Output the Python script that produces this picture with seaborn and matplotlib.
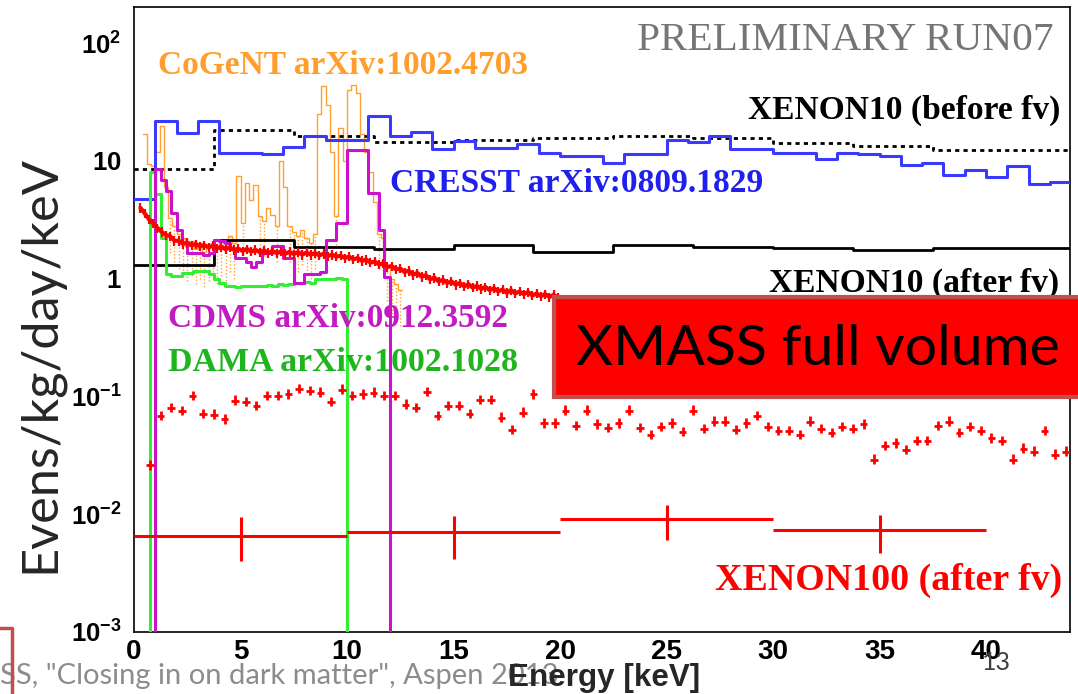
import numpy as np
import matplotlib
matplotlib.use("Agg")
import matplotlib.pyplot as plt
import seaborn as sns
from matplotlib.patches import Rectangle
from matplotlib.lines import Line2D
from matplotlib.ticker import LogLocator, NullFormatter, MultipleLocator

W, H = 1078, 694

# ---------------- data ----------------
# CRESST arXiv:0809.1829, 1 keV bins from 0 to 44 keV
cresst_edges = list(range(0, 45))
cresst_vals = [4.8, 21.8, 17.3, 21.8, 11.7, 11.7, 11.5, 13.2, 16.4, 15.0, 15.0, 24.1,
               16.4, 17.7, 12.6, 14.9, 12.8, 12.8, 13.9, 11.7, 11.1, 11.1, 9.6, 11.5,
               11.5, 15.1, 14.6, 16.4, 12.6, 12.6, 11.6, 11.6, 10.4, 11.6, 11.5, 11.1,
               9.2, 9.6, 7.6, 8.3, 7.3, 9.1, 6.4, 6.6]

# XENON10, 3.75 keV bins
xenon10_edges = [0, 3.75, 7.5, 11.25, 15, 18.75, 22.5, 26.25, 30, 33.75, 37.5, 41.25, 45]
xenon10_before = [8.5, 18.2, 16.3, 14.4, 15.2, 15.8, 16.3, 15.8, 14.2, 13.4, 12.5, 12.5]
xenon10_after = [1.32, 2.15, 1.87, 1.80, 1.93, 1.70, 1.93, 1.85, 1.81, 1.75, 1.81, 1.81]

# CoGeNT arXiv:1002.4703, 0.2 keV bins starting at 0.4 keV
cogent_start, cogent_width = 0.4, 0.2
cogent_vals = [17, 9.5, 9.0, 12, 20, 6.0, 3.3, 2.8, 2.4, 2.2, 1.9, 2.1, 1.8, 2.0, 1.7,
               1.9, 2.0, 1.8, 2.1, 1.9, 2.3, 2.0, 7.4, 3.0, 6.5, 4.7, 6.3, 3.4, 3.1, 4.0,
               3.5, 2.8, 9.9, 6.0, 2.8, 2.5, 2.3, 2.6, 2.2, 2.0, 2.4, 25, 43, 30, 12,
               3.4, 19, 10, 40, 44, 38, 17, 12, 8.0, 4.5, 2.4, 2.2, 1.3, 1.0, 0.9, 0.8]

# CDMS arXiv:0912.3592, 0.25 keV bins from 1 to 12 keV (zero outside)
cdms_start, cdms_width = 1.0, 0.25
cdms_vals = [8.5, 6.9, 5.6, 3.6, 2.6, 2.0, 1.65, 1.65, 1.65, 1.6, 1.65, 2.15, 2.1, 2.0,
             1.8, 1.5, 1.5, 1.4, 1.25, 1.4, 1.65, 1.65, 1.9, 1.9, 1.5, 1.5, 0.92, 0.92,
             1.1, 1.1, 1.1, 1.15, 2.15, 2.15, 3.0, 3.0, 12.4, 12.4, 12.4, 12.4, 5.3,
             5.3, 2.6, 1.03]

# DAMA arXiv:1002.1028, 0.25 keV bins from 0.75 to 10 keV (zero outside)
dama_start, dama_width = 0.75, 0.25
dama_vals = [8.1, 5.2, 2.2, 1.1, 1.05, 1.05, 1.12, 1.12, 1.17, 1.17, 1.17, 1.1, 1.0,
             0.92, 0.86, 0.86, 0.85, 0.86, 0.87, 0.86, 0.87, 0.86, 0.88, 0.87, 0.9,
             0.88, 0.9, 0.92, 0.92, 0.93, 0.92, 1.0, 1.0, 1.0, 1.0, 1.02, 1.0]

# XMASS full volume, fine spectrum 0.3 - 19.9 keV (0.2 keV steps)
xmass_fine_start, xmass_fine_step = 0.3, 0.2
xmass_fine = [4.0, 3.6, 3.2, 2.95, 2.7, 2.5, 2.35, 2.3, 2.1, 2.1, 1.98, 2.02, 1.92, 1.97,
              1.88, 1.93, 1.85, 1.9, 1.82, 1.86, 1.78, 1.84, 1.76, 1.8, 1.72, 1.79, 1.7,
              1.76, 1.68, 1.74, 1.66, 1.72, 1.65, 1.7, 1.63, 1.69, 1.62, 1.68, 1.6, 1.67,
              1.6, 1.65, 1.58, 1.63, 1.56, 1.6, 1.54, 1.57, 1.5, 1.54, 1.46, 1.5, 1.42,
              1.45, 1.37, 1.4, 1.32, 1.35, 1.26, 1.28, 1.2, 1.22, 1.14, 1.17, 1.08, 1.12,
              1.04, 1.07, 0.99, 1.02, 0.95, 0.98, 0.92, 0.95, 0.89, 0.92, 0.86, 0.9,
              0.84, 0.87, 0.82, 0.85, 0.8, 0.83, 0.78, 0.81, 0.76, 0.8, 0.75, 0.78, 0.74,
              0.77, 0.72, 0.75, 0.71, 0.74, 0.7, 0.73, 0.69]

# XMASS, 0.5 keV points from 0.75 keV
xmass_pts_start, xmass_pts_step = 0.75, 0.5
xmass_pts = [0.026, 0.068, 0.080, 0.075, 0.101, 0.071, 0.070, 0.064, 0.092, 0.090,
             0.083, 0.101, 0.101, 0.104, 0.116, 0.111, 0.108, 0.090, 0.114, 0.101,
             0.104, 0.108, 0.101, 0.101, 0.085, 0.080, 0.109, 0.068, 0.083,
             0.083, 0.071, 0.093, 0.093, 0.066, 0.052, 0.073, 0.104, 0.059, 0.059,
             0.076, 0.056, 0.076, 0.058, 0.054, 0.059, 0.076, 0.054, 0.047, 0.055,
             0.059, 0.050, 0.076, 0.053, 0.061, 0.061, 0.052, 0.059, 0.068, 0.055,
             0.051, 0.051, 0.047, 0.061, 0.053, 0.049, 0.055, 0.053, 0.058, 0.029,
             0.038, 0.040, 0.035, 0.042, 0.042, 0.056, 0.061, 0.049, 0.055, 0.051,
             0.044, 0.042, 0.029, 0.036, 0.034, 0.051, 0.032, 0.034]

# XENON100 (after fv), 10 keV bins
xenon100_centers = [5, 15, 25, 35]
xenon100_vals = [0.0065, 0.0070, 0.0091, 0.0073]
xenon100_lo = [0.0040, 0.0042, 0.0061, 0.0047]
xenon100_hi = [0.0094, 0.0096, 0.0119, 0.0098]

x_ticks = [0, 5, 10, 15, 20, 25, 30, 35, 40]
y_ticks = [1e-3, 1e-2, 1e-1, 1, 10, 100]
y_tick_labels = [r"$\mathbf{10^{-3}}$", r"$\mathbf{10^{-2}}$", r"$\mathbf{10^{-1}}$",
                 r"$\mathbf{1}$", r"$\mathbf{10}$", r"$\mathbf{10^{2}}$"]

# ---------------- style ----------------
sns.set_theme(style="white")
plt.rcParams.update({
    "font.family": ["Liberation Sans", "DejaVu Sans"],
    "mathtext.fontset": "custom",
    "mathtext.rm": "Liberation Sans:bold",
    "mathtext.bf": "Liberation Sans:bold",
    "mathtext.it": "Liberation Sans:bold",
    "axes.edgecolor": "black",
    "axes.linewidth": 1.2,
})

C_COGENT = "#FFA033"
C_CRESST = "#3A3AFF"
C_CDMS = "#CC11CC"
C_DAMA = "#33EE33"
C_RED = "#FF0000"

fig = plt.figure(figsize=(W / 100, H / 100), dpi=100)
fig.patch.set_facecolor("white")
ax = fig.add_axes([134 / W, 1 - 632 / H, 936 / W, 625 / H])


def step_line(x, y, **kw):
    sns.lineplot(x=x, y=y, ax=ax, estimator=None, sort=False,
                 drawstyle="steps-post", **kw)


# CoGeNT
cg_x = [cogent_start + cogent_width * i for i in range(len(cogent_vals) + 1)]
cg_y = list(cogent_vals) + [cogent_vals[-1]]
step_line(cg_x, cg_y, color=C_COGENT, lw=1.0, zorder=2)
for i, v in enumerate(cogent_vals):
    if v < 3.5:
        xc = cogent_start + cogent_width * (i + 0.5)
        ax.plot([xc, xc], [v * 0.5, v], color=C_COGENT, lw=1.0, ls=(0, (1, 1.5)), zorder=2)

# XENON10 before / after fv
step_line(xenon10_edges, list(xenon10_before) + [xenon10_before[-1]],
          color="black", lw=2.0, dashes=(1.5, 1.5), zorder=3)
step_line(xenon10_edges, list(xenon10_after) + [xenon10_after[-1]],
          color="black", lw=2.0, zorder=3)

# CRESST
step_line(cresst_edges, list(cresst_vals) + [cresst_vals[-1]], color=C_CRESST, lw=2.2, zorder=3)

# DAMA
dm_x = [dama_start - dama_width] + [dama_start + dama_width * i for i in range(len(dama_vals) + 1)]
dm_y = [0] + list(dama_vals) + [0]
step_line(dm_x, dm_y, color=C_DAMA, lw=2.2, zorder=4)

# CDMS
cd_x = [0] + [cdms_start + cdms_width * i for i in range(len(cdms_vals) + 1)]
cd_y = [0] + list(cdms_vals) + [0]
step_line(cd_x, cd_y, color=C_CDMS, lw=2.2, zorder=4)

# XMASS fine spectrum
xf = np.array([xmass_fine_start + xmass_fine_step * i for i in range(len(xmass_fine))])
yf = np.array(xmass_fine)
sns.lineplot(x=xf, y=yf, ax=ax, estimator=None, sort=False, color=C_RED, lw=3.0, zorder=5)
ax.errorbar(xf, yf, yerr=0.09 * yf, fmt="none", ecolor=C_RED, elinewidth=1.6, zorder=5)

# XMASS coarse points
xp = np.array([xmass_pts_start + xmass_pts_step * i for i in range(len(xmass_pts))])
yp = np.array(xmass_pts)
ax.errorbar(xp, yp, xerr=0.18, yerr=[0.08 * yp, 0.11 * yp], fmt="none",
            ecolor=C_RED, elinewidth=2.0, zorder=5)

# XENON100
xv = np.array(xenon100_vals)
ax.errorbar(xenon100_centers, xv, xerr=5,
            yerr=[xv - np.array(xenon100_lo), np.array(xenon100_hi) - xv],
            fmt="none", ecolor=C_RED, elinewidth=2.2, zorder=5)

# ---------------- axes ----------------
ax.set_yscale("log", nonpositive="clip")
ax.set_xlim(0, 43.94)
ax.set_ylim(1e-3, 203)
ax.set_xticks(x_ticks)
ax.set_xticklabels([str(t) for t in x_ticks], fontweight="bold", fontsize=20)
ax.xaxis.set_minor_locator(MultipleLocator(1))
ax.set_yticks(y_ticks)
ax.set_yticklabels(y_tick_labels, fontsize=18.5)
ax.yaxis.set_minor_locator(LogLocator(base=10, subs=np.arange(2, 10)))
ax.yaxis.set_minor_formatter(NullFormatter())
ax.tick_params(axis="both", which="both", direction="in", top=False, right=False,
               colors="black", width=0.8)
ax.tick_params(axis="x", which="major", length=13, pad=5)
ax.tick_params(axis="x", which="minor", length=6.5)
ax.tick_params(axis="y", which="major", length=16, pad=9)
ax.tick_params(axis="y", which="minor", length=7)
for s in ax.spines.values():
    s.set_color("black")
    s.set_linewidth(1.2)

ax.set_ylabel("Evens/kg/day/keV", family=["Lato", "DejaVu Sans"], fontsize=30, va="center")
ax.yaxis.set_label_coords((40 - 134) / 936, (632 - 364) / 625)
ax.set_xlabel("Energy [keV]", fontweight="bold", fontsize=17, va="center")
ax.xaxis.set_label_coords((604 - 134) / 936, (632 - 678) / 625)

# ---------------- annotations ----------------
fit = []


def label(txt, xpx, ypx, ha, width, **kw):
    t = fig.text(xpx / W, 1 - ypx / H, txt, ha=ha, va="center", **kw)
    fit.append((t, width, "w"))
    return t


serif = ["Liberation Serif", "DejaVu Serif"]
label("PRELIMINARY RUN07", 1054, 40, "right", 418, family=serif, color="#757575", fontsize=24)
label("CoGeNT arXiv:1002.4703", 158, 65, "left", 370, family=serif, weight="bold",
      color="#FF9E2C", fontsize=18)
label("XENON10 (before fv)", 1060, 110, "right", 312, family=serif, weight="bold",
      color="black", fontsize=18)
label("CRESST arXiv:0809.1829", 390, 183, "left", 374, family=serif, weight="bold",
      color="#2020EE", fontsize=18)
label("XENON10 (after fv)", 1059, 283, "right", 290, family=serif, weight="bold",
      color="black", fontsize=18)
label("CDMS arXiv:0912.3592", 168, 318, "left", 340, family=serif, weight="bold",
      color="#C21BC2", fontsize=18)
label("DAMA arXiv:1002.1028", 168, 362, "left", 350, family=serif, weight="bold",
      color="#1FB51F", fontsize=18)
label("XENON100 (after fv)", 1062, 580, "right", 347, family=serif, weight="bold",
      color=C_RED, fontsize=18)

# XMASS box
fig.add_artist(Rectangle((554 / W, 1 - 397 / H), 600 / W, 100 / H, transform=fig.transFigure,
                         facecolor=C_RED, edgecolor="#C0504D", lw=3.0, zorder=5))
label("XMASS full volume", 576, 349, "left", 484, family=["Lato", "DejaVu Sans"],
      color="black", fontsize=34, zorder=6)

# footer
label('SS, "Closing in on dark matter", Aspen 2013', 0, 676, "left", 557,
      family=["Lato", "DejaVu Sans"], color="#8C8C8C", fontsize=18, zorder=-1)
fig.text(996 / W, 1 - 662 / H, "13", family=["Lato", "DejaVu Sans"], fontsize=18,
         color="#404040", ha="center", va="center")
fig.add_artist(Line2D([0, 12 / W, 12 / W], [1 - 628 / H, 1 - 628 / H, 0],
                      transform=fig.transFigure, color="#C0504D", lw=2.5))

fit.append((ax.yaxis.label, 418, "h"))
fit.append((ax.xaxis.label, 192, "w"))

fig.canvas.draw()
r = fig.canvas.get_renderer()
for t, target, mode in fit:
    bb = t.get_window_extent(r)
    cur = bb.width if mode == "w" else bb.height
    if cur > 0:
        t.set_fontsize(t.get_fontsize() * target / cur)

fig.savefig("out.png", dpi=100, facecolor="white")
